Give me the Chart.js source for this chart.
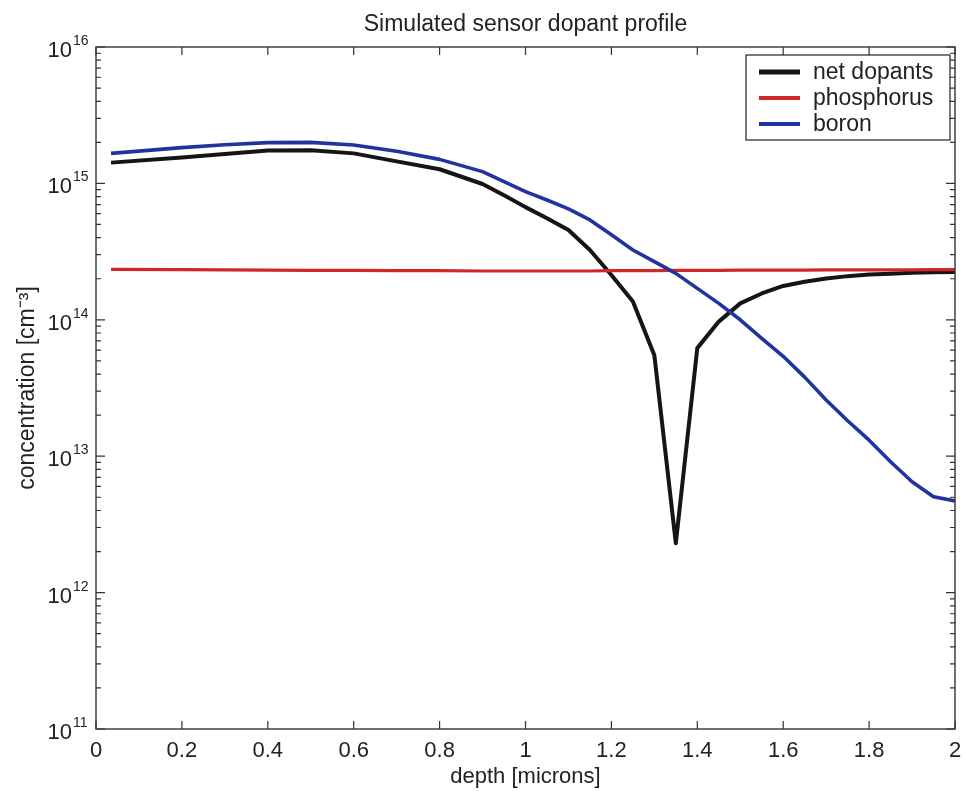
<!DOCTYPE html>
<html>
<head>
<meta charset="utf-8">
<script src="https://cdn.jsdelivr.net/npm/chart.js@4.4.1/dist/chart.umd.min.js"></script>
<style>
  html, body { margin: 0; padding: 0; background: #fff; }
  #wrap { width: 964px; height: 791px; }
</style>
</head>
<body>
<div id="wrap"><canvas id="dopantChart" width="964" height="791"></canvas></div>
<script>
// depth grid [microns]
const depth = [0.035, 0.2, 0.3, 0.4, 0.5, 0.6, 0.7, 0.8, 0.9, 0.95, 1.0, 1.05, 1.1, 1.15, 1.2, 1.25,
  1.3, 1.35, 1.4, 1.45, 1.5, 1.55, 1.6, 1.65, 1.7, 1.75, 1.8, 1.85, 1.9, 1.95, 2.0];

// concentration [cm^-3]
const netDopants = [1.42e15, 1.55e15, 1.64e15, 1.74e15, 1.75e15, 1.66e15, 1.45e15, 1.27e15, 9.9e14, 8.2e14,
  6.7e14, 5.55e14, 4.55e14, 3.25e14, 2.13e14, 1.36e14, 5.5e13, 2.3e12, 6.2e13, 9.7e13, 1.32e14, 1.56e14,
  1.77e14, 1.9e14, 2.01e14, 2.09e14, 2.15e14, 2.18e14, 2.21e14, 2.23e14, 2.24e14];
const phosphorus = [2.34e14, 2.33e14, 2.32e14, 2.31e14, 2.30e14, 2.30e14, 2.29e14, 2.29e14, 2.28e14, 2.28e14,
  2.28e14, 2.28e14, 2.28e14, 2.28e14, 2.29e14, 2.29e14, 2.29e14, 2.30e14, 2.30e14, 2.30e14, 2.31e14, 2.31e14,
  2.31e14, 2.31e14, 2.32e14, 2.32e14, 2.32e14, 2.32e14, 2.32e14, 2.33e14, 2.33e14];
const boron = [1.66e15, 1.83e15, 1.92e15, 1.99e15, 2.0e15, 1.91e15, 1.72e15, 1.50e15, 1.22e15, 1.03e15,
  8.7e14, 7.55e14, 6.5e14, 5.4e14, 4.2e14, 3.25e14, 2.67e14, 2.19e14, 1.70e14, 1.32e14, 1.0e14, 7.3e13,
  5.4e13, 3.8e13, 2.58e13, 1.82e13, 1.31e13, 9.1e12, 6.5e12, 5.05e12, 4.7e12];

const seriesNames = ['net dopants', 'phosphorus', 'boron'];
const seriesColors = ['#151515', '#d0282a', '#2233a0'];
const yDecades = [11, 12, 13, 14, 15, 16];

const FONT = 'Liberation Sans, Arial, Helvetica, sans-serif';

function toPoints(ys) {
  return depth.map((x, i) => ({ x: x, y: ys[i] }));
}

// frame, inward ticks, y labels with exponents, title and legend
const matlabFrame = {
  id: 'matlabFrame',
  afterDraw(chart) {
    const ctx = chart.ctx;
    const a = chart.chartArea;
    const xs = chart.scales.x;
    const ys = chart.scales.y;
    ctx.save();

    // ticks
    ctx.strokeStyle = '#333';
    ctx.lineWidth = 1.2;
    ctx.beginPath();
    for (let i = 0; i <= 10; i++) {
      const px = xs.getPixelForValue(i * 0.2);
      ctx.moveTo(px, a.bottom); ctx.lineTo(px, a.bottom - 8);
      ctx.moveTo(px, a.top); ctx.lineTo(px, a.top + 8);
    }
    yDecades.forEach((e, k) => {
      const py = ys.getPixelForValue(Math.pow(10, e));
      ctx.moveTo(a.left, py); ctx.lineTo(a.left + 9, py);
      ctx.moveTo(a.right, py); ctx.lineTo(a.right - 9, py);
      if (k < yDecades.length - 1) {
        for (let m = 2; m <= 9; m++) {
          const pm = ys.getPixelForValue(m * Math.pow(10, e));
          ctx.moveTo(a.left, pm); ctx.lineTo(a.left + 5, pm);
          ctx.moveTo(a.right, pm); ctx.lineTo(a.right - 5, pm);
        }
      }
    });
    ctx.stroke();

    // box
    ctx.lineWidth = 1.4;
    ctx.strokeRect(a.left, a.top, a.right - a.left, a.bottom - a.top);

    // y tick labels 10^n
    ctx.fillStyle = '#222';
    yDecades.forEach(e => {
      const py = ys.getPixelForValue(Math.pow(10, e));
      ctx.font = '22px ' + FONT;
      ctx.textAlign = 'right';
      ctx.textBaseline = 'alphabetic';
      ctx.fillText('10', 72, py + 10);
      ctx.font = '14px ' + FONT;
      ctx.textAlign = 'left';
      ctx.fillText(String(e), 73, py - 2);
    });

    // title
    ctx.font = '23px ' + FONT;
    ctx.textAlign = 'center';
    ctx.textBaseline = 'alphabetic';
    ctx.fillText('Simulated sensor dopant profile', (a.left + a.right) / 2, 31);

    // legend
    const lx = 746, ly = 55, lw = 204, lh = 85;
    ctx.fillStyle = '#fff';
    ctx.fillRect(lx, ly, lw, lh);
    ctx.strokeStyle = '#222';
    ctx.lineWidth = 1.2;
    ctx.strokeRect(lx, ly, lw, lh);
    const rows = [72, 98, 124];
    seriesNames.forEach((name, i) => {
      ctx.strokeStyle = seriesColors[i];
      ctx.lineWidth = i === 0 ? 5 : 4;
      ctx.beginPath();
      ctx.moveTo(759, rows[i]); ctx.lineTo(800, rows[i]);
      ctx.stroke();
      ctx.fillStyle = '#222';
      ctx.font = '23px ' + FONT;
      ctx.textAlign = 'left';
      ctx.textBaseline = 'middle';
      ctx.fillText(name, 813, rows[i] + 1);
    });

    ctx.restore();
  }
};

const chart = new Chart(document.getElementById('dopantChart'), {
  type: 'line',
  data: {
    datasets: [
      { label: seriesNames[0], data: toPoints(netDopants), borderColor: seriesColors[0], borderWidth: 4, order: 3 },
      { label: seriesNames[1], data: toPoints(phosphorus), borderColor: seriesColors[1], borderWidth: 3.2, order: 2 },
      { label: seriesNames[2], data: toPoints(boron), borderColor: seriesColors[2], borderWidth: 3.6, order: 1 }
    ]
  },
  options: {
    responsive: false,
    animation: false,
    layout: { padding: { top: 47, right: 9, left: 0, bottom: 0 } },
    elements: {
      point: { radius: 0 },
      line: { tension: 0, fill: false, borderJoinStyle: 'round' }
    },
    plugins: {
      legend: { display: false },
      tooltip: { enabled: false }
    },
    scales: {
      x: {
        type: 'linear',
        min: 0,
        max: 2,
        grid: { display: false },
        border: { display: false },
        ticks: {
          stepSize: 0.2,
          padding: 1,
          color: '#222',
          font: { family: FONT, size: 22 },
          maxRotation: 0,
          callback: v => String(Number(v.toFixed(1)))
        },
        title: {
          display: true,
          text: 'depth [microns]',
          color: '#222',
          font: { family: FONT, size: 22 },
          padding: { top: 0, bottom: 1 }
        },
        afterFit(scale) {
          scale.height = 62;
          scale.paddingLeft = 0;
          scale.paddingRight = 0;
        }
      },
      y: {
        type: 'logarithmic',
        min: 1e11,
        max: 1e16,
        grid: { display: false },
        border: { display: false },
        ticks: { display: false },
        title: {
          display: true,
          text: 'concentration [cm\u207B\u00B3]',
          color: '#222',
          font: { family: FONT, size: 23 },
          padding: { top: 14, bottom: 0 }
        },
        afterFit(scale) { scale.width = 96; }
      }
    }
  },
  plugins: [matlabFrame]
});
</script>
</body>
</html>
